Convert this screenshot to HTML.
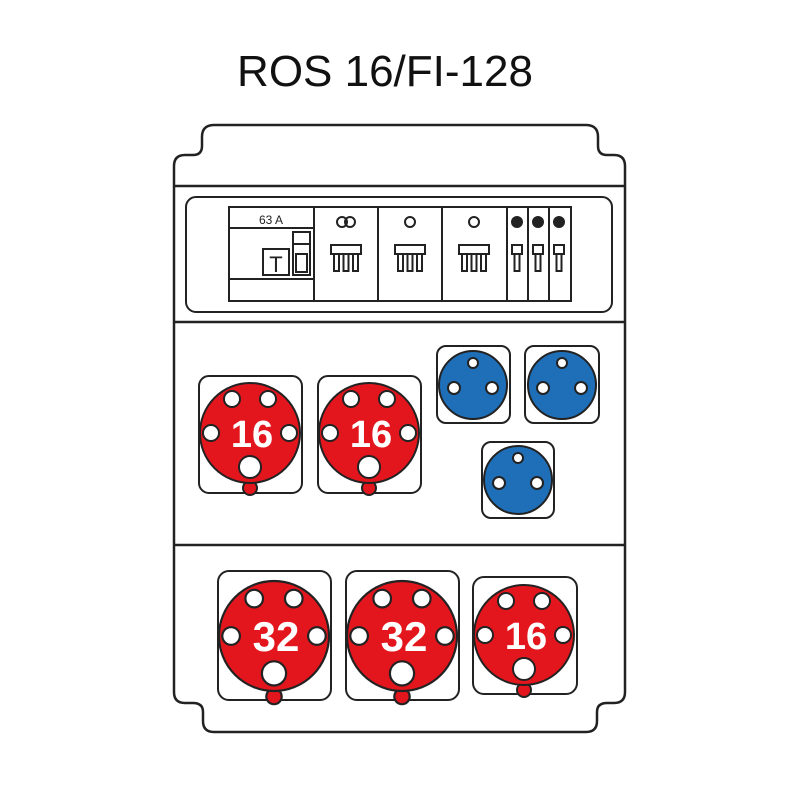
<!DOCTYPE html>
<html><head><style>body{margin:0;background:#fff}svg{display:block}</style></head><body>
<svg width="800" height="800" viewBox="0 0 800 800" xmlns="http://www.w3.org/2000/svg" font-family="Liberation Sans, sans-serif">
<text x="385" y="86" font-size="44" text-anchor="middle" fill="#111">ROS 16/FI-128</text>
<path d="M214,125 H586 Q598,125 598,137 V146 Q598,155 607,155 H614 Q625,155 625,166 V692 Q625,703 614,703 H607 Q597,703 597,712 V721 Q597,732 586,732 H214 Q203,732 203,721 V712 Q203,703 193,703 H185 Q174,703 174,692 V166 Q174,155 185,155 H193 Q202,155 202,146 V137 Q202,125 214,125 Z" fill="#fff" stroke="#222" stroke-width="2.5"/>
<line x1="174" y1="186" x2="625" y2="186" stroke="#222" stroke-width="2.5"/>
<line x1="174" y1="322" x2="625" y2="322" stroke="#222" stroke-width="2.5"/>
<line x1="174" y1="545" x2="625" y2="545" stroke="#222" stroke-width="2.5"/>
<rect x="186" y="197" width="426" height="115" rx="10" fill="none" stroke="#222" stroke-width="2"/>
<g stroke="#222" stroke-width="2" fill="none">
<rect x="229" y="207" width="342" height="94"/>
<line x1="229" y1="228" x2="314" y2="228"/>
<line x1="229" y1="279" x2="314" y2="279"/>
<rect x="263" y="249" width="26" height="26"/>
<rect x="293" y="232" width="17" height="43"/>
<line x1="293" y1="244" x2="310" y2="244"/>
<rect x="296" y="254" width="11" height="18"/>
<line x1="314" y1="207" x2="314" y2="301"/>
<line x1="378" y1="207" x2="378" y2="301"/>
<line x1="442" y1="207" x2="442" y2="301"/>
<line x1="507" y1="207" x2="507" y2="301"/>
<line x1="528" y1="207" x2="528" y2="301"/>
<line x1="549" y1="207" x2="549" y2="301"/>
<circle cx="342" cy="222" r="5"/><circle cx="350" cy="222" r="5"/>
<circle cx="410" cy="222" r="5"/>
<circle cx="474" cy="222" r="5"/>
</g>
<text x="271" y="224" font-size="12" text-anchor="middle" fill="#222">63 A</text>
<text x="276" y="272" font-size="22" text-anchor="middle" fill="#222">T</text>
<g fill="#222"><circle cx="517" cy="222" r="6"/><circle cx="538" cy="222" r="6"/><circle cx="559" cy="222" r="6"/></g>
<defs>
<g id="comb3" stroke="#222" stroke-width="2" fill="#fff">
<rect x="-15" y="0" width="30" height="9"/>
<rect x="-12" y="9" width="5" height="17"/><rect x="-2.5" y="9" width="5" height="17"/><rect x="7" y="9" width="5" height="17"/>
</g>
<g id="comb1" stroke="#222" stroke-width="2" fill="#fff">
<rect x="-5" y="0" width="10" height="9"/><rect x="-2.5" y="9" width="5" height="17"/>
</g>
</defs>
<use href="#comb3" x="346" y="245"/><use href="#comb3" x="410" y="245"/><use href="#comb3" x="474" y="245"/>
<use href="#comb1" x="517" y="245"/><use href="#comb1" x="538" y="245"/><use href="#comb1" x="559" y="245"/>
<g stroke="#222" stroke-width="2" fill="#fff">
<rect x="199" y="376" width="103" height="117" rx="10"/>
<rect x="318" y="376" width="103" height="117" rx="10"/>
<rect x="437" y="346" width="73" height="77" rx="9"/>
<rect x="525" y="346" width="74" height="77" rx="9"/>
<rect x="482" y="442" width="72" height="76" rx="9"/>
<rect x="218" y="571" width="113" height="129" rx="11"/>
<rect x="346" y="571" width="113" height="129" rx="11"/>
<rect x="473" y="577" width="104" height="117" rx="11"/>
</g>
<defs>
<g id="red" stroke="#222" stroke-width="2">
<circle cx="0" cy="55" r="7" fill="#e3161e"/>
<circle cx="0" cy="0" r="50" fill="#e3161e"/>
<g fill="#fff"><circle cx="-18" cy="-34" r="8"/><circle cx="18" cy="-34" r="8"/><circle cx="-39" cy="0" r="8"/><circle cx="39" cy="0" r="8"/><circle cx="0" cy="34" r="11"/></g>
</g>
<g id="blue" stroke="#222" stroke-width="2">
<circle cx="0" cy="0" r="34" fill="#1e6fb8"/>
<g fill="#fff"><circle cx="0" cy="-22" r="5"/><circle cx="-19" cy="3" r="6"/><circle cx="19" cy="3" r="6"/></g>
</g>
</defs>
<use href="#red" transform="translate(250,433)"/>
<use href="#red" transform="translate(369,433)"/>
<use href="#red" transform="translate(274,636) scale(1.1)"/>
<use href="#red" transform="translate(402,636) scale(1.1)"/>
<use href="#red" transform="translate(524,635)"/>
<use href="#blue" transform="translate(473,385)"/>
<use href="#blue" transform="translate(562,385)"/>
<use href="#blue" transform="translate(518,480)"/>
<g fill="#fff" font-weight="bold" text-anchor="middle">
<text x="252" y="447" font-size="38">16</text>
<text x="371" y="447" font-size="38">16</text>
<text x="276" y="651" font-size="42">32</text>
<text x="404" y="651" font-size="42">32</text>
<text x="526" y="649" font-size="38">16</text>
</g>
</svg>
</body></html>
